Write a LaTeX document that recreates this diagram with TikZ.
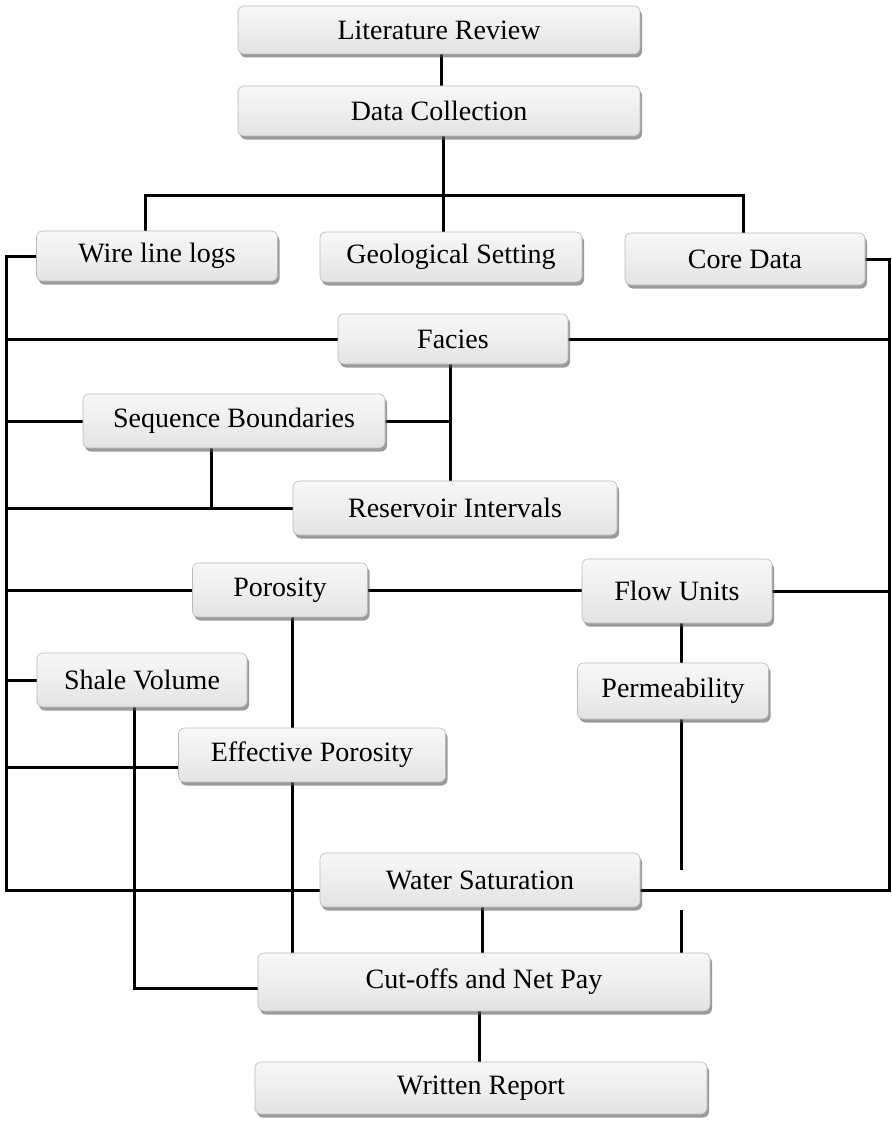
\documentclass[tikz,border=0pt]{standalone}
\usepackage{fontspec}
\setmainfont{Liberation Serif}
\usetikzlibrary{shadows}
\pgfdeclarelayer{background}
\pgfsetlayers{background,main}
\begin{document}
\begin{tikzpicture}[x=1pt,y=-1pt,
  box/.style={rectangle, rounded corners=6pt, draw=gray!55, line width=0.6pt,
    top color=gray!6, bottom color=gray!22, middle color=gray!13,
    drop shadow={shadow xshift=2pt, shadow yshift=-3.5pt, fill=black!65, opacity=0.6},
    font=\fontsize{28}{31}\selectfont, inner sep=0pt, text=black},
  conn/.style={line width=3pt, black}]
\useasboundingbox (0,0) rectangle (891,1121);
% nodes
\node[box,minimum width=402pt,minimum height=48pt] (LR) at (439,30) {Literature Review};
\node[box,minimum width=402pt,minimum height=50pt] (DC) at (439,111) {Data Collection};
\node[box,minimum width=241pt,minimum height=50pt] (WL) at (157,256) {Wire line logs};
\node[box,minimum width=262pt,minimum height=50pt] (GS) at (451,257) {Geological Setting};
\node[box,minimum width=240pt,minimum height=52pt] (CD) at (745,259) {Core Data};
\node[box,minimum width=230pt,minimum height=50pt] (FA) at (453,339) {Facies};
\node[box,minimum width=302pt,minimum height=54pt] (SB) at (234,421) {Sequence Boundaries};
\node[box,minimum width=324pt,minimum height=54pt] (RI) at (455,508) {Reservoir Intervals};
\node[box,minimum width=175pt,minimum height=54pt] (PO) at (280,590) {Porosity};
\node[box,minimum width=190pt,minimum height=64pt] (FU) at (677,591) {Flow Units};
\node[box,minimum width=191pt,minimum height=56pt] (PE) at (673,691) {Permeability};
\node[box,minimum width=210pt,minimum height=54pt] (SV) at (142,680) {Shale Volume};
\node[box,minimum width=267pt,minimum height=54pt] (EP) at (312,755) {Effective Porosity};
\node[box,minimum width=320pt,minimum height=54pt] (WS) at (480,880) {Water Saturation};
\node[box,minimum width=452pt,minimum height=58pt] (CO) at (484,982) {Cut-offs and Net Pay};
\node[box,minimum width=452pt,minimum height=52pt] (WR) at (481,1088) {Written Report};
% helper coordinates
\coordinate (L) at (6,0);
\coordinate (R) at (889,0);
\coordinate (cxa) at (441,0);
\coordinate (cxb) at (443,0);
\coordinate (bl) at (145,195);
\coordinate (br) at (743,195);
\coordinate (fx) at (450,0);
\coordinate (sx) at (211,0);
\coordinate (px) at (292,0);
\coordinate (vx) at (134,0);
\coordinate (ux) at (681,0);
\coordinate (wx) at (482,0);
\coordinate (wy) at (479,0);
\coordinate (yWS) at (0,890);
\coordinate (yEP) at (0,767);
\coordinate (yCO) at (0,988);
\coordinate (gapT) at (0,870);
\coordinate (gapB) at (0,910);
\begin{pgfonlayer}{background}
% top
\draw[conn] (LR.south -| cxa) -- (DC.north -| cxa);
\draw[conn] (DC.south -| cxb) -- (GS.north -| cxb);
\draw[conn] (WL.north -| bl) -- (bl) -- (br) -- (CD.north -| br);
% left bus
\draw[conn] (WL.west) -- (WL.west -| L) -- (L |- yWS) -- (yWS -| WS.west);
\draw[conn] (L |- FA.west) -- (FA.west);
\draw[conn] (L |- SB.west) -- (SB.west);
\draw[conn] (L |- RI.west) -- (RI.west);
\draw[conn] (L |- PO.west) -- (PO.west);
\draw[conn] (L |- SV.west) -- (SV.west);
\draw[conn] (L |- yEP) -- (yEP -| EP.west);
% right bus
\draw[conn] (CD.east) -- (CD.east -| R) -- (R |- yWS) -- (yWS -| WS.east);
\draw[conn] (FA.east) -- (FA.east -| R);
\draw[conn] (FU.east) -- (FU.east -| R);
% middle
\draw[conn] (FA.south -| fx) -- (RI.north -| fx);
\draw[conn] (SB.east) -- (SB.east -| fx);
\draw[conn] (SB.south -| sx) -- (sx |- RI.west);
\draw[conn] (PO.east) -- (PO.east -| FU.west);
\draw[conn] (PO.south -| px) -- (EP.north -| px);
\draw[conn] (EP.south -| px) -- (CO.north -| px);
\draw[conn] (SV.south -| vx) -- (vx |- yCO) -- (yCO -| CO.west);
\draw[conn] (FU.south -| ux) -- (PE.north -| ux);
\draw[conn] (PE.south -| ux) -- (ux |- gapT);
\draw[conn] (ux |- gapB) -- (CO.north -| ux);
\draw[conn] (WS.south -| wx) -- (CO.north -| wx);
\draw[conn] (CO.south -| wy) -- (WR.north -| wy);
\end{pgfonlayer}
\end{tikzpicture}
\end{document}
